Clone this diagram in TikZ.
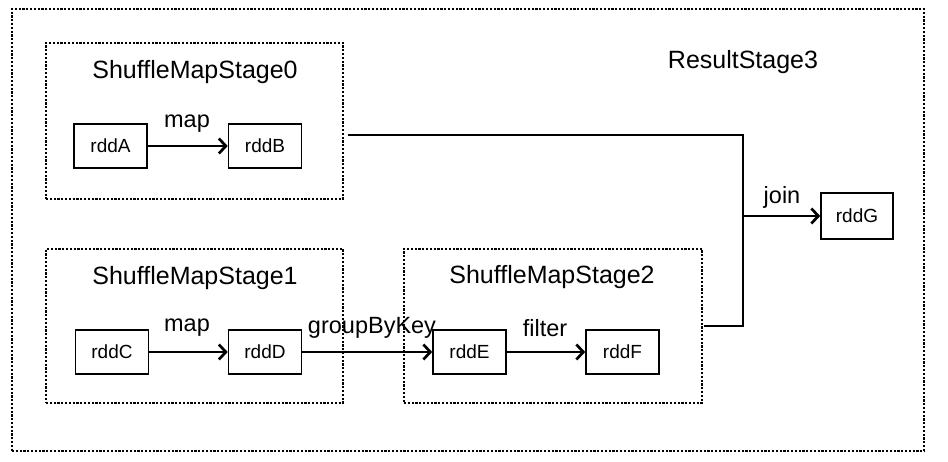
\documentclass[tikz,border=0pt]{standalone}
\usepackage{fontspec}
\setmainfont{Liberation Sans}
\usetikzlibrary{arrows.meta}
\begin{document}
\begin{tikzpicture}[x=1pt,y=-1pt,
  stagebox/.style={draw, line width=2.5pt, dash pattern=on 2.2pt off 1.6pt, minimum width=#1, inner sep=0pt},
  rddbox/.style={draw, line width=1.6pt, minimum width=73pt, minimum height=44pt, inner sep=0pt, font=\fontsize{19}{21}\selectfont},
  ttl/.style={font=\fontsize{25}{28}\selectfont},
  lbl/.style={font=\fontsize{23.5}{26}\selectfont},
  conn/.style={line width=2.7pt, -{Straight Barb[length=7pt,width=15pt,line width=2.7pt]}},
  plain/.style={line width=2.7pt}
]
\useasboundingbox (0,0) rectangle (948,462);
\fill[white] (0,0) rectangle (948,462);
% stages
\node[stagebox=912pt, minimum height=442pt] (s3) at (468,230) {};
\node[stagebox=297pt, minimum height=156pt] (s0) at (194.5,121) {};
\node[stagebox=297pt, minimum height=154pt] (s1) at (194.5,326) {};
\node[stagebox=298pt, minimum height=154pt] (s2) at (553,326) {};
% titles
\node[ttl] (t3) at (743,62) {ResultStage3};
\node[ttl] (t0) at (195,72) {ShuffleMapStage0};
\node[ttl] (t1) at (195,278) {ShuffleMapStage1};
\node[ttl] (t2) at (552,277) {ShuffleMapStage2};
% rdd boxes
\node[rddbox] (A) at (110.5,146) {rddA};
\node[rddbox] (B) at (265,146) {rddB};
\node[rddbox] (C) at (112,352) {rddC};
\node[rddbox] (D) at (265,352) {rddD};
\node[rddbox] (E) at (469.5,352) {rddE};
\node[rddbox] (F) at (622.5,352) {rddF};
\node[rddbox, minimum width=72pt, minimum height=46pt] (G) at (857,216) {rddG};
% connectors
\draw[conn] (A) -- (B);
\draw[conn] (C) -- (D);
\draw[conn] (D) -- (E);
\draw[conn] (E) -- (F);
\coordinate (j) at (743,216);
\draw[plain] ([xshift=4pt,yshift=-14pt]s0.east) -| (j);
\draw[plain] ([xshift=1pt]s2.east) -| (j);
\draw[conn] (j) -- (G);
% labels
\node[lbl] (lmap0) at (187,124) {map};
\node[lbl] (lmap1) at (187,328) {map};
\node[lbl] (lgbk) at (372,328) {groupByKey};
\node[lbl] (lfil) at (545,328) {filter};
\node[lbl] (ljoin) at (782,197) {join};
\end{tikzpicture}
\end{document}
